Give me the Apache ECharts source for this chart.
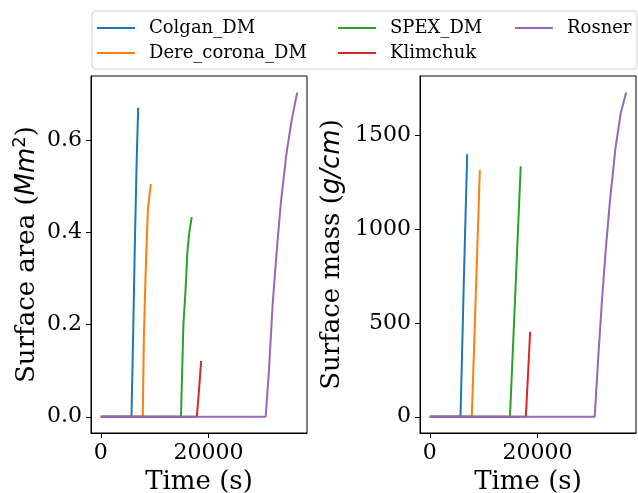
<!DOCTYPE html>
<html>
<head>
<meta charset="utf-8">
<script src="https://cdn.jsdelivr.net/npm/echarts@6/dist/echarts.min.js"></script>
<style>html,body{margin:0;padding:0;background:#fff;}#c{width:638px;height:493px;}</style>
</head>
<body>
<div id="c"></div>
<script>
// ---- data ----
const seriesNames = ['Colgan_DM', 'Dere_corona_DM', 'SPEX_DM', 'Klimchuk', 'Rosner'];

const colganTime = [0, 5700, 6000, 6300, 6650, 6950];
const colganArea = [0, 0, 0.17, 0.36, 0.55, 0.67];
const colganMass = [0, 0, 340, 700, 1080, 1400];

const dereTime = [0, 7800, 8000, 8350, 8750, 9300];
const dereArea = [0, 0, 0.17, 0.32, 0.45, 0.505];
const dereMass = [0, 0, 175, 480, 830, 1315];

const spexTime = [0, 14900, 15350, 15750, 16100, 16450, 16900];
const spexArea = [0, 0, 0.20, 0.275, 0.36, 0.40, 0.433];
const spexMass = [0, 0, 300, 567, 800, 1035, 1335];

const klimTime = [0, 17850, 18250, 18650];
const klimArea = [0, 0, 0.058, 0.121];
const klimMass = [0, 0, 225, 453];

const rosnerTime = [0, 30650, 31250, 31950, 32700, 33450, 34500, 35500, 36500];
const rosnerArea = [0, 0, 0.10, 0.246, 0.36, 0.462, 0.57, 0.645, 0.703];
const rosnerMass = [0, 0, 290, 600, 890, 1140, 1430, 1620, 1728];

const timeTicks = [0, 20000];
const areaTicks = [0, 0.2, 0.4, 0.6];
const massTicks = [0, 500, 1000, 1500];

const colors = ['#1f77b4', '#ff7f0e', '#2ca02c', '#d62728', '#9467bd'];

const times = [colganTime, dereTime, spexTime, klimTime, rosnerTime];
const areas = [colganArea, dereArea, spexArea, klimArea, rosnerArea];
const masses = [colganMass, dereMass, spexMass, klimMass, rosnerMass];

const FONT = 'DejaVu Serif';

function pairs(t, v) { return t.map((x, i) => [x, v[i]]); }

const series = [];
seriesNames.forEach((n, i) => {
  series.push({
    name: n, type: 'line', xAxisIndex: 0, yAxisIndex: 0,
    data: pairs(times[i], areas[i]), showSymbol: false, symbol: 'none',
    lineStyle: { width: 2, color: colors[i] }, itemStyle: { color: colors[i] }, z: 2 + i
  });
  series.push({
    name: n, type: 'line', xAxisIndex: 1, yAxisIndex: 1,
    data: pairs(times[i], masses[i]), showSymbol: false, symbol: 'none',
    lineStyle: { width: 2, color: colors[i] }, itemStyle: { color: colors[i] }, z: 2 + i
  });
});

function xAxis(idx) {
  return {
    type: 'value', gridIndex: idx, min: -1825, max: 38325,
    name: 'Time (s)', nameLocation: 'middle', nameGap: 32,
    nameTextStyle: { fontFamily: FONT, fontSize: 26, color: '#000' },
    splitLine: { show: false },
    axisLine: { show: true, onZero: false, lineStyle: { color: '#000', width: 1 } },
    axisTick: { show: true, length: 5, customValues: timeTicks, lineStyle: { color: '#000', width: 1 } },
    axisLabel: { customValues: timeTicks, fontFamily: FONT, fontSize: 22, color: '#000', margin: 9,
      formatter: v => String(v) }
  };
}

const nameRich = {
  n: { fontFamily: FONT, fontSize: 26, color: '#000', lineHeight: 32 },
  i: { fontFamily: 'DejaVu Sans', fontStyle: 'italic', fontSize: 26, color: '#000', lineHeight: 32 },
  s: { fontFamily: 'DejaVu Sans', fontSize: 18, color: '#000', lineHeight: 18, verticalAlign: 'top' }
};

const legendCommon = {
  orient: 'vertical', icon: 'rect', itemWidth: 38, itemHeight: 2, itemGap: 5, padding: 0,
  textStyle: { fontFamily: FONT, fontSize: 18, color: '#000', lineHeight: 20, padding: [0, 0, 0, 9] },
  top: 18, selectedMode: false
};

const option = {
  animation: false,
  backgroundColor: '#fff',
  color: colors,
  graphic: [{
    type: 'rect', left: 91.5, top: 10.5, z: -1,
    shape: { width: 545, height: 58, r: 4 },
    style: { fill: '#fff', stroke: '#d0d0d0', lineWidth: 1 }
  }],
  legend: [
    Object.assign({}, legendCommon, { left: 97, data: [seriesNames[0], seriesNames[1]] }),
    Object.assign({}, legendCommon, { left: 338, data: [seriesNames[2], seriesNames[3]] }),
    Object.assign({}, legendCommon, { left: 515, data: [seriesNames[4]] })
  ],
  grid: [
    { left: 91, top: 76, width: 216, height: 357, show: true, borderColor: '#000', borderWidth: 1,
      containLabel: false, outerBoundsMode: 'none' },
    { left: 420, top: 76, width: 216, height: 357, show: true, borderColor: '#000', borderWidth: 1,
      containLabel: false, outerBoundsMode: 'none' }
  ],
  xAxis: [xAxis(0), xAxis(1)],
  yAxis: [
    {
      type: 'value', gridIndex: 0, min: -0.0352, max: 0.739,
      name: '{n|Surface area (}{i|Mm}{s|2}{n|)}', nameLocation: 'middle', nameGap: 48, nameRotate: 90,
      nameTextStyle: { fontFamily: FONT, fontSize: 26, color: '#000', rich: nameRich },
      splitLine: { show: false },
      axisLine: { show: true, onZero: false, lineStyle: { color: '#000', width: 1 } },
      axisTick: { show: true, length: 5, customValues: areaTicks, lineStyle: { color: '#000', width: 1 } },
      axisLabel: { customValues: areaTicks, fontFamily: FONT, fontSize: 22, color: '#000', margin: 9,
        formatter: v => v.toFixed(1) }
    },
    {
      type: 'value', gridIndex: 1, min: -86.5, max: 1816.5,
      name: '{n|Surface mass (}{i|g/cm}{n|)}', nameLocation: 'middle', nameGap: 72, nameRotate: 90,
      nameTextStyle: { fontFamily: FONT, fontSize: 26, color: '#000', rich: nameRich },
      splitLine: { show: false },
      axisLine: { show: true, onZero: false, lineStyle: { color: '#000', width: 1 } },
      axisTick: { show: true, length: 5, customValues: massTicks, lineStyle: { color: '#000', width: 1 } },
      axisLabel: { customValues: massTicks, fontFamily: FONT, fontSize: 22, color: '#000', margin: 9,
        formatter: v => String(v) }
    }
  ],
  series: series
};

const chart = echarts.init(document.getElementById('c'), null, { renderer: 'canvas' });
chart.setOption(option);
</script>
</body>
</html>
